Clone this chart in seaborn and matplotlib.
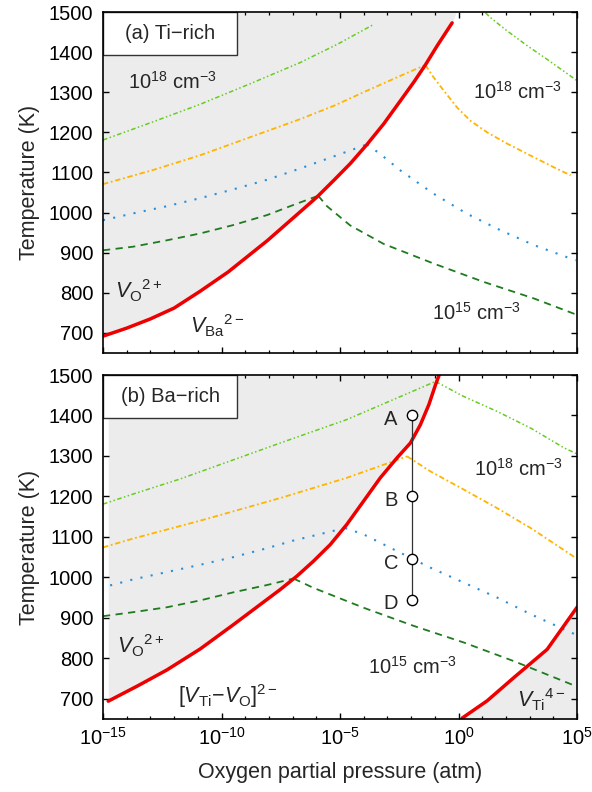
import numpy as np
import matplotlib
matplotlib.use("Agg")
import matplotlib.pyplot as plt
import seaborn as sns
from matplotlib.patches import Rectangle
from matplotlib.ticker import NullFormatter

sns.set_theme(style="ticks")
plt.rcParams['font.family'] = ['Liberation Sans', 'DejaVu Sans']
plt.rcParams['mathtext.fontset'] = 'custom'
plt.rcParams['mathtext.rm'] = 'Liberation Sans'
plt.rcParams['mathtext.it'] = 'Liberation Sans:italic'
plt.rcParams['mathtext.bf'] = 'Liberation Sans:bold'

# ---- (a) Ti-rich : log10(pO2) and T (K) ----
a_red_logp = [-15.0, -14.0, -13.0, -12.0, -10.9, -9.72, -8.07, -6.68, -5.97, -5.27, -4.57, -3.86,
              -3.16, -2.45, -1.89, -1.40, -0.90, -0.27]
a_red_T = [692, 712, 735, 762, 804, 852, 930, 1002, 1039, 1080, 1122, 1170,
           1221, 1279, 1325, 1368, 1416, 1473]
a_gray_top_logp = -0.10  # where the shaded region meets the top frame

a_n15_left_logp = [-15.0, -13.73, -12.3, -10.9, -9.5, -8.07, -6.97, -5.92]
a_n15_left_T = [906, 915, 931, 948, 969, 994, 1019, 1042]
a_n15_right_logp = [-5.92, -5.55, -4.57, -3.16, -1.05, 1.07, 3.18, 5.0]
a_n15_right_T = [1042, 1016, 968, 922, 873, 827, 786, 745]

a_n16_left_logp = [-15.0, -13.73, -12.3, -10.9, -9.5, -8.07, -6.68, -5.27, -3.86]
a_n16_left_T = [981, 998, 1016, 1036, 1058, 1082, 1110, 1140, 1170]
a_n16_right_logp = [-3.86, -3.30, -2.45, -1.05, 0.36, 1.77, 3.18, 4.94]
a_n16_right_T = [1170, 1146, 1105, 1047, 997, 956, 919, 881]

a_n17_left_logp = [-15.0, -12.9, -10.9, -6.68, -5.27, -3.86, -2.45, -1.40]
a_n17_left_T = [1071, 1106, 1143, 1233, 1266, 1304, 1341, 1368]
a_n17_right_logp = [-1.40, -1.05, -0.62, -0.06, 0.50, 1.21, 2.05, 3.18, 4.02, 4.73]
a_n17_right_T = [1368, 1337, 1304, 1262, 1229, 1200, 1172, 1138, 1113, 1093]

a_n18_left_logp = [-15.0, -12.9, -10.9, -8.8, -6.68, -5.1, -3.58]
a_n18_left_T = [1181, 1226, 1270, 1321, 1374, 1420, 1469]
a_n18_right_logp = [1.14, 1.35, 2.05, 2.90, 3.74, 5.0]
a_n18_right_T = [1498, 1486, 1453, 1416, 1382, 1329]

# ---- (b) Ba-rich ----
b_red_logp = [-14.78, -13.5, -12.31, -10.9, -9.5, -7.52, -6.82, -6.12, -5.41, -4.71, -4.01, -3.30,
              -2.60, -2.03, -1.61, -1.25, -0.97, -0.76]
b_red_T = [694, 733, 771, 823, 883, 970, 1003, 1040, 1081, 1131, 1188, 1246,
           1295, 1332, 1377, 1427, 1476, 1509]
b_red2_logp = [0.15, 1.21, 2.33, 3.74, 5.0]
b_red2_T = [652, 695, 752, 822, 926]

b_n15_left_logp = [-15.0, -13.72, -12.31, -10.9, -9.5, -8.08, -6.96]
b_n15_left_T = [904, 914, 926, 943, 963, 981, 997]
b_n15_right_logp = [-6.96, -6.12, -4.01, -1.89, 0.22, 2.33, 5.0]
b_n15_right_T = [997, 974, 925, 880, 839, 793, 730]

b_n16_left_logp = [-14.7, -13.72, -12.31, -10.9, -9.5, -8.08, -6.96, -6.11, -4.78]
b_n16_left_T = [980, 995, 1013, 1031, 1050, 1072, 1091, 1103, 1122]
b_n16_right_logp = [-4.78, -4.0, -2.60, -1.19, 0.22, 1.63, 3.04, 5.0]
b_n16_right_T = [1122, 1106, 1065, 1024, 987, 950, 909, 857]

b_n17_left_logp = [-15.0, -13.72, -10.9, -7.52, -4.71, -2.17]
b_n17_left_T = [1074, 1096, 1140, 1196, 1246, 1299]
b_n17_right_logp = [-2.17, -1.19, 0.22, 1.63, 3.04, 5.0]
b_n17_right_T = [1299, 1262, 1217, 1171, 1122, 1046]

b_n18_left_logp = [-15.0, -13.72, -11.75, -7.52, -4.71, -0.97]
b_n18_left_T = [1181, 1206, 1243, 1332, 1390, 1484]
b_n18_right_logp = [-0.97, 0.22, 1.63, 3.04, 4.45, 5.0]
b_n18_right_T = [1484, 1447, 1410, 1369, 1320, 1305]

point_labels = ['A', 'B', 'C', 'D']
point_logp = -1.97
point_T = [1400, 1200, 1045, 945]

RED = '#ee0000'
GRAY = '#ececec'
styles = {
    'n15': dict(color='#1e7b1e', lw=1.3, linestyle=(0, (4, 3))),
    'n16': dict(color='#2a8fd8', lw=1.5, linestyle=(0, (1, 4))),
    'n17': dict(color='#ffb400', lw=1.3, linestyle=(0, (3, 1.5, 1, 1.5))),
    'n18': dict(color='#66cc22', lw=1.1, linestyle=(0, (3, 1.6, 1, 1.6, 1, 1.6))),
}


def line(ax, logp, T, **kw):
    sns.lineplot(x=10.0 ** np.array(logp), y=T, ax=ax, sort=False,
                 estimator=None, legend=False, **kw)


def style_axes(ax, show_xlabels):
    ax.set_xscale('log')
    ax.set_xlim(1e-15, 1e5)
    ax.set_ylim(650, 1500)
    ax.set_xticks([10.0 ** k for k in range(-15, 6, 5)])
    ax.set_xticks([10.0 ** k for k in range(-15, 6)], minor=True)
    ax.xaxis.set_minor_formatter(NullFormatter())
    ax.set_yticks(range(700, 1501, 100))
    ax.tick_params(which='both', direction='in', top=True, right=True,
                   colors='black', labelsize=14.5)
    ax.tick_params(which='major', length=4, width=1.0)
    ax.tick_params(which='minor', length=2.5, width=0.9)
    ax.tick_params(axis='y', pad=7)
    ax.tick_params(axis='x', pad=6)
    if not show_xlabels:
        ax.tick_params(axis='x', labelbottom=False)
    for s in ax.spines.values():
        s.set_color('black')
        s.set_linewidth(1.2)
        s.set_zorder(10)
    ax.set_ylabel('Temperature (K)', fontsize=15.5, labelpad=6)
    ax.set_facecolor('white')


def panel_box(ax, text):
    ax.add_patch(Rectangle((0, 0.875), 0.283, 0.125, transform=ax.transAxes,
                           facecolor='white', edgecolor='#333333', lw=1.0, zorder=8))
    ax.text(0.1415, 0.9375, text, transform=ax.transAxes, ha='center', va='center',
            fontsize=14.5, zorder=9)


fig = plt.figure(figsize=(5.92, 7.92), dpi=100)
ax1 = fig.add_axes([0.174, 0.5543, 0.8007, 0.4305])
ax2 = fig.add_axes([0.174, 0.0922, 0.8007, 0.4343])

# ---- panel (a)
fx = 10.0 ** np.array(a_red_logp + [a_gray_top_logp])
fy = np.array(a_red_T + [1500])
ax1.fill_between(fx, fy, 1500, color=GRAY, lw=0, zorder=0)
for key in ['n15', 'n16', 'n17', 'n18']:
    line(ax1, globals()[f'a_{key}_left_logp'], globals()[f'a_{key}_left_T'], **styles[key])
    line(ax1, globals()[f'a_{key}_right_logp'], globals()[f'a_{key}_right_T'], **styles[key])
line(ax1, a_red_logp, a_red_T, color=RED, lw=2.5, zorder=5)
style_axes(ax1, False)
panel_box(ax1, '(a) Ti\u2212rich')

ax1.text(10 ** -13.95, 1325, r'$10^{18}\ \mathrm{cm}^{-3}$', fontsize=14.5, va='center')
ax1.text(10 ** 0.6, 1300, r'$10^{18}\ \mathrm{cm}^{-3}$', fontsize=14.5, va='center')
ax1.text(10 ** -1.1, 750, r'$10^{15}\ \mathrm{cm}^{-3}$', fontsize=14.5, va='center')
ax1.text(10 ** -14.5, 805, r'$V_{\mathrm{O}}{}^{2+}$', fontsize=15.5, va='center')
ax1.text(10 ** -11.35, 718, r'$V_{\mathrm{Ba}}{}^{2-}$', fontsize=15.5, va='center')

# ---- panel (b)
bx = 10.0 ** np.array(b_red_logp)
ax2.fill_between(bx, np.minimum(b_red_T, 1500), 1500, color=GRAY, lw=0, zorder=0)
ax2.fill_between(10.0 ** np.array(b_red2_logp), 600, b_red2_T, color=GRAY, lw=0, zorder=0)
for key in ['n15', 'n16', 'n17', 'n18']:
    line(ax2, globals()[f'b_{key}_left_logp'], globals()[f'b_{key}_left_T'], **styles[key])
    line(ax2, globals()[f'b_{key}_right_logp'], globals()[f'b_{key}_right_T'], **styles[key])
line(ax2, b_red_logp, b_red_T, color=RED, lw=2.5, zorder=5)
line(ax2, b_red2_logp, b_red2_T, color=RED, lw=2.5, zorder=5)

px = [10.0 ** point_logp] * len(point_T)
ax2.plot(px, point_T, color='#333333', lw=0.9, zorder=6)
sns.scatterplot(x=px, y=point_T, ax=ax2, s=55, facecolor='white',
                edgecolor='black', linewidth=1.0, zorder=7, legend=False)
for lab, t in zip(point_labels, point_T):
    ax2.annotate(lab, (px[0], t), xytext=(-15, -3), textcoords='offset points',
                 ha='center', va='center', fontsize=14.5)

style_axes(ax2, True)
ax2.set_xlabel('Oxygen partial pressure (atm)', fontsize=15.5, labelpad=9)
panel_box(ax2, '(b) Ba\u2212rich')

ax2.text(10 ** 0.65, 1268, r'$10^{18}\ \mathrm{cm}^{-3}$', fontsize=14.5, va='center')
ax2.text(10 ** -3.8, 779, r'$10^{15}\ \mathrm{cm}^{-3}$', fontsize=14.5, va='center')
ax2.text(10 ** -14.4, 830, r'$V_{\mathrm{O}}{}^{2+}$', fontsize=15.5, va='center')
ax2.text(10 ** -11.85, 706, r'$[V_{\mathrm{Ti}}{-}V_{\mathrm{O}}]^{2-}$', fontsize=15.5, va='center')
ax2.text(10 ** 2.45, 698, r'$V_{\mathrm{Ti}}{}^{4-}$', fontsize=15.5, va='center')

fig.savefig('out.png', dpi=100)
